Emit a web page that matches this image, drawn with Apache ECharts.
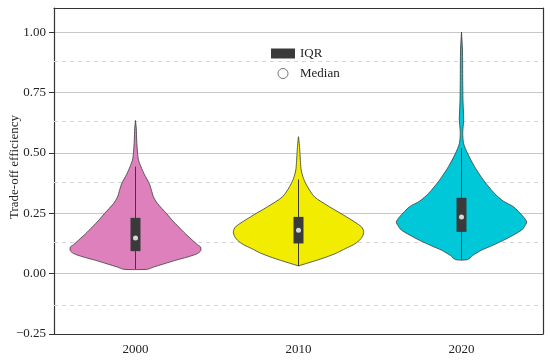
<!DOCTYPE html>
<html><head><meta charset="utf-8">
<script src="https://cdn.jsdelivr.net/npm/echarts@6/dist/echarts.min.js"></script>
<style>html,body{margin:0;padding:0;background:#fff}#c{width:550px;height:361px}</style>
</head><body><div id="c"></div>
<script>
// ---- data ----
const categories = ['2000', '2010', '2020'];
const yTicks = [-0.25, 0, 0.25, 0.5, 0.75, 1.0];
const minorGrid = [-0.125, 0.125, 0.375, 0.625, 0.875];

// violin profiles: value (top -> bottom) and relative density (half-width, fraction of half band)
const v2000Values = [0.634, 0.60, 0.55, 0.50, 0.47, 0.443, 0.41, 0.374, 0.345, 0.318, 0.29, 0.249, 0.22, 0.194, 0.165, 0.138, 0.12, 0.11, 0.095, 0.083, 0.07, 0.055, 0.04, 0.027, 0.018];
const v2000Density = [0, 0.01, 0.015, 0.025, 0.037, 0.067, 0.11, 0.168, 0.196, 0.22, 0.27, 0.38, 0.454, 0.528, 0.613, 0.70, 0.76, 0.80, 0.80, 0.76, 0.65, 0.49, 0.344, 0.22, 0.147];
const v2010Values = [0.567, 0.53, 0.498, 0.46, 0.429, 0.394, 0.36, 0.318, 0.277, 0.235, 0.194, 0.173, 0.155, 0.138, 0.12, 0.104, 0.085, 0.069, 0.055, 0.041, 0.032];
const v2010Density = [0, 0.012, 0.018, 0.025, 0.033, 0.061, 0.11, 0.196, 0.38, 0.589, 0.773, 0.80, 0.785, 0.748, 0.675, 0.577, 0.466, 0.344, 0.22, 0.086, 0];
const v2020Values = [1.0, 0.927, 0.80, 0.72, 0.66, 0.637, 0.60, 0.58, 0.54, 0.498, 0.443, 0.387, 0.332, 0.30, 0.277, 0.235, 0.214, 0.195, 0.18, 0.16, 0.138, 0.115, 0.097, 0.075, 0.058];
const v2020Density = [0, 0.012, 0.015, 0.018, 0.025, 0.027, 0.018, 0.015, 0.025, 0.074, 0.16, 0.27, 0.405, 0.515, 0.638, 0.76, 0.80, 0.773, 0.736, 0.638, 0.515, 0.368, 0.245, 0.135, 0.074];

const q1 = [0.093, 0.125, 0.173];
const q3 = [0.231, 0.235, 0.314];
const medians = [0.148, 0.18, 0.234];
const whiskerLow = [0.018, 0.032, 0.058];
const whiskerHigh = [0.443, 0.39, 0.52];

// ---- chart ----
const violinValues = [v2000Values, v2010Values, v2020Values];
const violinDensity = [v2000Density, v2010Density, v2020Density];
const violinColors = ['#DD80BC', '#F2EC00', '#00C8D8'];
const FONT = 'Liberation Serif';

function renderViolin(params, api) {
  const i = api.value(0);
  const ys = violinValues[i], ds = violinDensity[i];
  const center = api.coord([i, 0])[0];
  const half = api.size([1, 0])[0] / 2;
  const left = [], right = [];
  for (let k = 0; k < ys.length; k++) {
    const py = api.coord([i, ys[k]])[1];
    right.push([center + ds[k] * half, py]);
    left.push([center - ds[k] * half, py]);
  }
  const pts = right.concat(left.reverse());
  return { type: 'polygon', shape: { points: pts, smooth: 0.25 },
    style: { fill: violinColors[i], stroke: '#3a3a3a', lineWidth: 0.8 } };
}

function renderBox(params, api) {
  const i = api.value(0);
  const c = api.coord([i, 0])[0];
  const lo = api.coord([i, api.value(1)])[1];
  const b1 = api.coord([i, api.value(2)])[1];
  const b3 = api.coord([i, api.value(3)])[1];
  const hi = api.coord([i, api.value(4)])[1];
  const bw = 10;
  return { type: 'group', children: [
    { type: 'line', shape: { x1: c, y1: lo, x2: c, y2: hi }, style: { stroke: '#3a3a3a', lineWidth: 1 } },
    { type: 'rect', shape: { x: c - bw / 2, y: b3, width: bw, height: b1 - b3 }, style: { fill: '#3a3a3a' } }
  ] };
}

const chart = echarts.init(document.getElementById('c'));
chart.setOption({
  animation: false,
  backgroundColor: '#fff',
  textStyle: { fontFamily: FONT },
  grid: { left: 54, right: 7, top: 8, bottom: 27, containLabel: false, outerBoundsMode: 'none' },
  legend: {
    orient: 'vertical', left: 266, top: 42, itemWidth: 24, itemHeight: 10, itemGap: 7,
    textStyle: { fontFamily: FONT, fontSize: 13, color: '#222' },
    data: [
      { name: 'IQR', icon: 'rect', itemStyle: { color: '#3a3a3a' } },
      { name: 'Median', icon: 'circle', itemStyle: { color: '#fff', borderColor: '#555', borderWidth: 1 } }
    ]
  },
  xAxis: [{
    type: 'category', data: categories, boundaryGap: true,
    axisLine: { onZero: false, lineStyle: { color: '#333', width: 1.2 } },
    axisTick: { alignWithLabel: true, length: 5, lineStyle: { color: '#333' } },
    axisLabel: { fontFamily: FONT, fontSize: 13, color: '#222', margin: 9 },
    splitLine: { show: false }
  }, {
    type: 'category', data: categories, position: 'top', z: 5,
    axisLine: { onZero: false, lineStyle: { color: '#333', width: 1.2 } },
    axisTick: { show: false }, axisLabel: { show: false }, splitLine: { show: false }
  }],
  yAxis: [{
    type: 'value', min: -0.25, max: 1.1, interval: 0.25,
    name: 'Trade-off efficiency', nameLocation: 'middle', nameGap: 33, nameMoveOverlap: false,
    nameTextStyle: { fontFamily: FONT, fontSize: 13, color: '#222', padding: [0, 0, 0, 8] },
    axisLine: { show: true, onZero: false, lineStyle: { color: '#333', width: 1.2 } },
    axisTick: { show: true, length: 5, customValues: yTicks, lineStyle: { color: '#333' } },
    axisLabel: { fontFamily: FONT, fontSize: 13, color: '#222', margin: 8, customValues: yTicks,
      formatter: v => v.toFixed(2).replace('-', '\u2212') },
    splitLine: { show: true, lineStyle: { color: '#c8c8c8', width: 1.2 } }
  }, {
    type: 'value', min: -0.25, max: 1.1, position: 'right', z: 5,
    axisLine: { show: true, onZero: false, lineStyle: { color: '#333', width: 1.2 } },
    axisTick: { show: false }, axisLabel: { show: false }, splitLine: { show: false }
  }],
  series: [
    {
      type: 'line', data: [], silent: true, z: 1,
      markLine: { silent: true, symbol: 'none', z: 1, label: { show: false },
        lineStyle: { type: [4, 4], color: '#d4d4d4', width: 1 },
        data: minorGrid.map(v => ({ yAxis: v })) }
    },
    {
      type: 'custom', name: 'violin', z: 2, renderItem: renderViolin,
      data: categories.map((c, i) => [i]), encode: { x: 0 }
    },
    {
      type: 'custom', name: 'IQR', z: 3, renderItem: renderBox, itemStyle: { color: '#3a3a3a' },
      data: categories.map((c, i) => [i, whiskerLow[i], q1[i], q3[i], whiskerHigh[i]]),
      encode: { x: 0, y: [1, 2, 3, 4] }
    },
    {
      type: 'scatter', name: 'Median', z: 4, symbol: 'circle', symbolSize: 5,
      itemStyle: { color: '#fff' },
      data: categories.map((c, i) => [i, medians[i]])
    }
  ]
});
</script></body></html>
